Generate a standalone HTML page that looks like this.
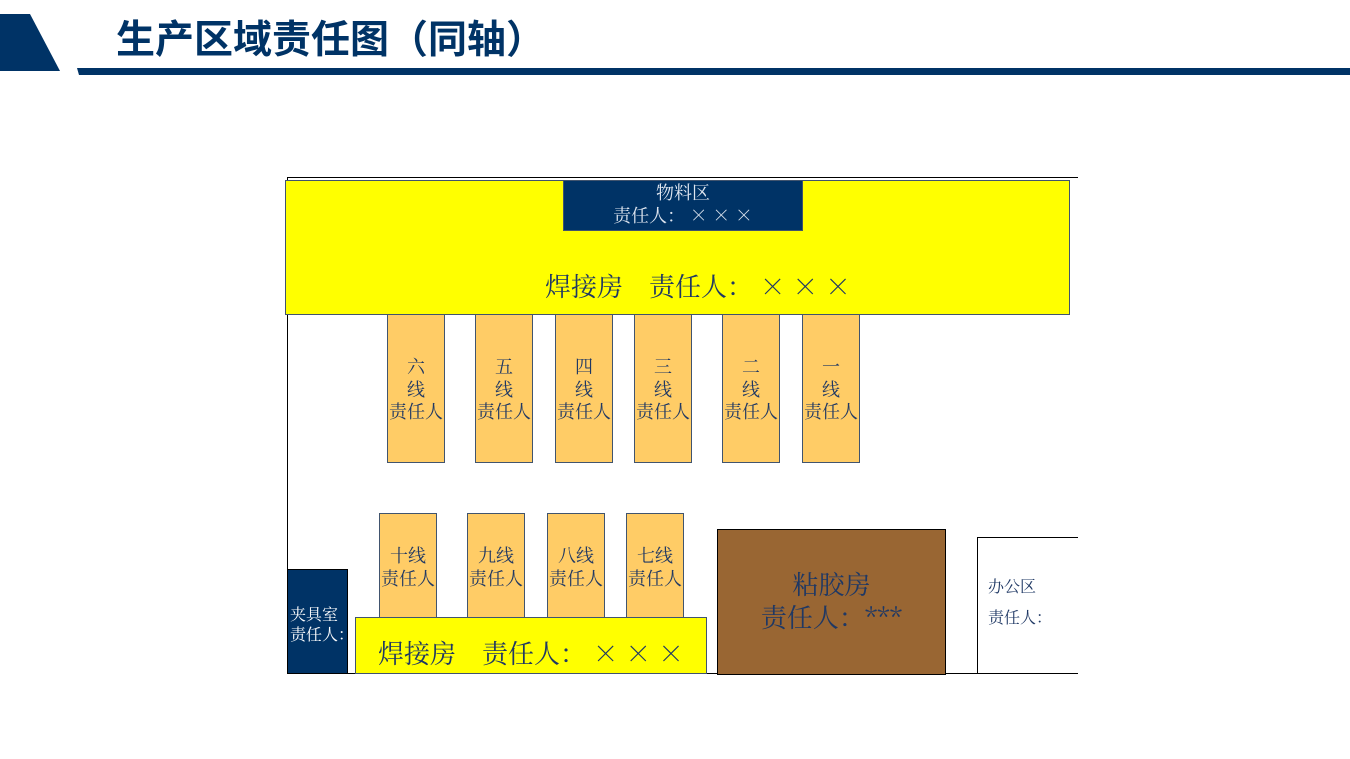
<!DOCTYPE html>
<html><head><meta charset="utf-8"><style>
body{margin:0;width:1350px;height:759px;background:#fff;position:relative;overflow:hidden;font-family:"Noto Serif CJK SC","Liberation Serif",serif}
.a{position:absolute;box-sizing:border-box}
.o{background:#ffcc66;border:1px solid #41546e;color:#1f3864;font-size:18px;line-height:22.5px;text-align:center}
.t{position:absolute;white-space:nowrap}
</style></head><body>
<svg class="a" style="left:0;top:0" width="1350" height="80">
<polygon points="0,14 30,14 60,71 0,71" fill="#003366"/>
<polygon points="77,68 1350,68 1350,75 79,75" fill="#003366"/>
</svg>
<div class="t" style="left:116px;top:11px;font-size:39px;font-weight:bold;color:#003366;font-family:'Noto Sans CJK SC',sans-serif;line-height:52px">生产区域责任图（同轴）</div>

<div class="a" style="left:287px;top:177px;width:791px;height:1px;background:#000"></div>
<div class="a" style="left:287px;top:177px;width:1px;height:497px;background:#000"></div>
<div class="a" style="left:287px;top:673px;width:791px;height:1px;background:#000"></div>

<div class="a" style="left:285px;top:180px;width:785px;height:135px;background:#ffff00;border:1px solid #41546e"></div>
<div class="t" style="left:545px;top:268px;font-size:26px;color:#1f3864;line-height:36px">焊接房　责任人：&nbsp;×&nbsp;×&nbsp;×</div>
<div class="a" style="left:563px;top:180px;width:240px;height:51px;background:#003366;border:1px solid #41546e;color:#dfe6f0;font-size:18px;line-height:23px;text-align:center;padding-top:0px">物料区<br>责任人：&nbsp;×&nbsp;×&nbsp;×</div>

<div class="a o" style="left:387px;top:314px;width:58px;height:149px;padding-top:40px">六<br>线<br>责任人</div>
<div class="a o" style="left:475px;top:314px;width:58px;height:149px;padding-top:40px">五<br>线<br>责任人</div>
<div class="a o" style="left:555px;top:314px;width:58px;height:149px;padding-top:40px">四<br>线<br>责任人</div>
<div class="a o" style="left:634px;top:314px;width:58px;height:149px;padding-top:40px">三<br>线<br>责任人</div>
<div class="a o" style="left:722px;top:314px;width:58px;height:149px;padding-top:40px">二<br>线<br>责任人</div>
<div class="a o" style="left:802px;top:314px;width:58px;height:149px;padding-top:40px">一<br>线<br>责任人</div>

<div class="a o" style="left:379px;top:513px;width:58px;height:110px;padding-top:30px">十线<br>责任人</div>
<div class="a o" style="left:467px;top:513px;width:58px;height:110px;padding-top:30px">九线<br>责任人</div>
<div class="a o" style="left:547px;top:513px;width:58px;height:110px;padding-top:30px">八线<br>责任人</div>
<div class="a o" style="left:626px;top:513px;width:58px;height:110px;padding-top:30px">七线<br>责任人</div>

<div class="a" style="left:355px;top:617px;width:352px;height:57px;background:#ffff00;border:1px solid #41546e"></div>
<div class="t" style="left:378px;top:635px;font-size:26px;color:#1f3864;line-height:36px">焊接房　责任人：&nbsp;×&nbsp;×&nbsp;×</div>

<div class="a" style="left:287px;top:569px;width:61px;height:105px;background:#003366;border:1px solid #000;color:#fff;font-size:16px;line-height:20px;padding-top:34px;padding-left:2px;white-space:nowrap">夹具室<br>责任人：</div>

<div class="a" style="left:717px;top:529px;width:229px;height:146px;background:#996633;border:1px solid #000;color:#1f3864;font-size:26px;line-height:33px;text-align:center;padding-top:37px">粘胶房<br>责任人：***</div>

<div class="a" style="left:977px;top:537px;width:101px;height:137px;border-left:1px solid #000;border-top:1px solid #000"></div>
<div class="t" style="left:988px;top:575px;font-size:16px;color:#1f3864;line-height:22px">办公区</div>
<div class="t" style="left:988px;top:606px;font-size:16px;color:#1f3864;line-height:22px">责任人：</div>
</body></html>
